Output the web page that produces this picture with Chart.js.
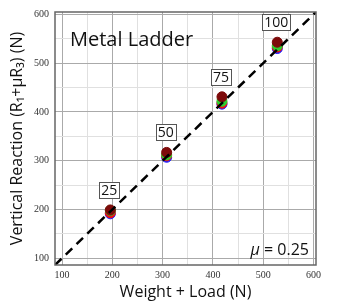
<!DOCTYPE html>
<html>
<head>
<meta charset="utf-8">
<script src="https://cdn.jsdelivr.net/npm/chart.js@4.4.1/dist/chart.umd.min.js"></script>
<style>
  html, body { margin: 0; padding: 0; background: #fff; }
  #wrap { width: 339px; height: 306px; }
</style>
</head>
<body>
<div id="wrap"><canvas id="ladderChart" width="339" height="306"></canvas></div>
<script>
// load on the ladder (N) and the total weight + load (N)
var loads = [25, 50, 75, 100];
var weight_load = [196, 308, 418, 528];

// measured vertical reaction R1 + mu*R3 (N), one array per trial
var reaction_blue = [191, 307, 416, 530];
var reaction_red = [193, 310, 418, 533];
var reaction_green = [198, 312, 422, 536];
var reaction_maroon = [199, 317, 431, 543];

var axis_range = [86, 605];
var tick_values = [100, 150, 200, 250, 300, 350, 400, 450, 500, 550, 600];

function toPoints(ys) {
    return weight_load.map((x, i) => ({ x: x, y: ys[i] }));
}

var sans = "'Open Sans', 'Liberation Sans', sans-serif";
var serif = "'Liberation Serif', 'DejaVu Serif', serif";

//- frame, load boxes and annotations -
var extrasPlugin = {
    id: "extras",
    afterDatasetsDraw: function (chart) {
        var ctx = chart.ctx;
        var area = chart.chartArea;
        ctx.save();

        // load labels above the top points
        var meta = chart.getDatasetMeta(1);
        ctx.font = "14px " + sans;
        ctx.textAlign = "center";
        ctx.textBaseline = "middle";
        meta.data.forEach(function (pt, i) {
            var txt = String(loads[i]);
            var w = ctx.measureText(txt).width + 4;
            var h = 16;
            var cx = pt.x - 1;
            var cy = pt.y - 20;
            ctx.fillStyle = "#fff";
            ctx.fillRect(cx - w / 2, cy - h / 2, w, h);
            ctx.strokeStyle = "#555";
            ctx.lineWidth = 1;
            ctx.strokeRect(Math.round(cx - w / 2) + 0.5, Math.round(cy - h / 2) + 0.5, Math.round(w), h);
            ctx.fillStyle = "#111";
            ctx.fillText(txt, cx, cy + 1);
        });

        // title inside the plot
        ctx.textAlign = "left";
        ctx.textBaseline = "alphabetic";
        ctx.font = "20px " + sans;
        ctx.fillStyle = "#111";
        ctx.fillText("Metal Ladder", area.left + 15, area.top + 34);

        // friction coefficient
        ctx.textAlign = "right";
        ctx.font = "16px " + sans;
        var rest = " = 0.25";
        var restW = ctx.measureText(rest).width;
        ctx.fillText(rest, area.right - 7, area.bottom - 10);
        ctx.font = "italic 16px " + sans;
        ctx.fillText("\u03bc", area.right - 7 - restW, area.bottom - 10);

        // plot frame
        ctx.strokeStyle = "#666";
        ctx.lineWidth = 1.5;
        ctx.strokeRect(area.left, area.top, area.right - area.left, area.bottom - area.top);
        ctx.restore();
    },
};

function gridColor(c) {
    if (!c.tick) return "#ddd";
    return c.tick.value % 100 === 0 ? "#aaaaaa" : "#e0e0e0";
}

var chartCanvas = document.getElementById("ladderChart").getContext("2d");

new Chart(chartCanvas, {
    type: "scatter",
    data: {
        datasets: [
            {
                type: "line",
                data: [
                    { x: axis_range[0], y: axis_range[0] },
                    { x: axis_range[1], y: axis_range[1] },
                ],
                borderColor: "#000",
                borderWidth: 2.5,
                borderDash: [9, 6],
                pointRadius: 0,
                fill: false,
                order: 0,
            },
            {
                data: toPoints(reaction_maroon),
                backgroundColor: "#7d0a0a",
                borderColor: "#7d0a0a",
                pointRadius: 5,
                order: 1,
            },
            {
                data: toPoints(reaction_green),
                backgroundColor: "#2ecc2e",
                borderColor: "#2ecc2e",
                pointRadius: 5,
                order: 2,
            },
            {
                data: toPoints(reaction_red),
                backgroundColor: "#ee1111",
                borderColor: "#ee1111",
                pointRadius: 5,
                order: 3,
            },
            {
                data: toPoints(reaction_blue),
                backgroundColor: "#1a1aff",
                borderColor: "#1a1aff",
                pointRadius: 5,
                order: 4,
            },
        ],
    },
    options: {
        responsive: false,
        animation: false,
        layout: { padding: { top: 5, right: 23, left: 0, bottom: 0 } },
        plugins: {
            legend: { display: false },
            tooltip: { enabled: false },
        },
        scales: {
            x: {
                type: "linear",
                min: axis_range[0],
                max: axis_range[1],
                afterBuildTicks: (s) => { s.ticks = tick_values.map((v) => ({ value: v })); },
                afterFit: (s) => { s.height = 41; },
                border: { display: false },
                grid: { color: gridColor, lineWidth: 1, drawTicks: false },
                ticks: {
                    padding: 4,
                    maxRotation: 0,
                    autoSkip: false,
                    color: "#333",
                    font: { family: serif, size: 10 },
                    callback: (v) => (v % 100 === 0 ? v : ""),
                },
                title: {
                    display: true,
                    text: "Weight + Load (N)",
                    color: "#111",
                    font: { family: sans, size: 16 },
                    padding: { top: 0, bottom: 4 },
                },
            },
            y: {
                type: "linear",
                min: axis_range[0],
                max: axis_range[1],
                afterBuildTicks: (s) => { s.ticks = tick_values.map((v) => ({ value: v })); },
                afterFit: (s) => { s.width = 55; },
                border: { display: false },
                grid: { color: gridColor, lineWidth: 1, drawTicks: false },
                ticks: {
                    padding: 6,
                    autoSkip: false,
                    color: "#333",
                    font: { family: serif, size: 10 },
                    callback: (v) => (v % 100 === 0 ? v : ""),
                },
                title: {
                    display: true,
                    text: "Vertical Reaction (R\u2081+\u03bcR\u2083) (N)",
                    color: "#111",
                    font: { family: sans, size: 16 },
                    padding: { top: 8, bottom: 0 },
                },
            },
        },
    },
    plugins: [extrasPlugin],
});
</script>
</body>
</html>
